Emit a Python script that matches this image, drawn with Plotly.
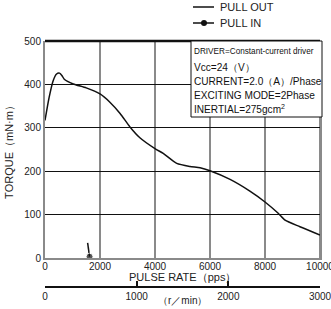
import plotly.graph_objects as go

# Pull-out torque curve (pps, mN·m)
pullout_pps = [0, 150, 300, 420, 530, 620, 700, 1030, 1500, 2000, 2360, 2730, 3090, 3450,
               4000, 4300, 4790, 5270, 5640, 6000, 6730, 7450, 8000, 8480, 8730, 9270, 10000]
pullout_torque = [317, 370, 409, 424, 426, 420, 412, 401, 392, 378, 359, 333, 302, 277,
                  252, 241, 218, 211, 208, 201, 181, 154, 129, 103, 87, 72, 53]

# Pull-in torque (short segment)
pullin_pps = [1550, 1620]
pullin_torque = [35, 3]

x_ticks = [0, 2000, 4000, 6000, 8000, 10000]
y_ticks = [0, 100, 200, 300, 400, 500]
rpm_range = [0, 3000]
rpm_ticks = [0, 1000, 2000, 3000]

legend_names = ["PULL OUT", "PULL IN"]
info_lines = ["DRIVER=Constant-current driver", "Vcc=24（V）", "CURRENT=2.0（A）/Phase",
              "EXCITING MODE=2Phase", "INERTIAL=275gcm<sup>2</sup>"]

FONT = "Arial, Liberation Sans, sans-serif"
L, R, T, B = 45, 11, 41, 22
W, H = 331, 309
PW, PH = W - L - R, H - T - B


def px(xp):
    return (xp - L) / PW


def py(yp):
    return (H - B - yp) / PH


fig = go.Figure()
fig.add_trace(go.Scatter(x=pullout_pps, y=pullout_torque, mode="lines", name=legend_names[0],
                         line=dict(color="#111", width=1.5, shape="spline", smoothing=0.6)))
fig.add_trace(go.Scatter(x=pullin_pps, y=pullin_torque, mode="lines+markers", name=legend_names[1],
                         line=dict(color="#111", width=1.5),
                         marker=dict(size=[0, 7], color="#111")))
# carrier for the secondary (r/min) axis
fig.add_trace(go.Scatter(x=rpm_range, y=[None, None], xaxis="x2", mode="lines",
                         showlegend=False, hoverinfo="skip"))

fig.update_layout(
    width=W, height=H,
    margin=dict(l=L, r=R, t=T, b=B),
    paper_bgcolor="white", plot_bgcolor="white",
    font=dict(family=FONT, size=10, color="#222"),
    showlegend=False,
    xaxis=dict(range=[0, 10000], tickvals=x_ticks, ticktext=[str(v) for v in x_ticks],
               showgrid=True, gridcolor="#8a8a8a", gridwidth=2,
               showline=True, linecolor="#8a8a8a", linewidth=2, mirror=False,
               zeroline=False, ticks="", anchor="y", automargin=False,
               ticklabeloverflow="allow", ticklabelstandoff=-2,
               tickfont=dict(size=10, color="#222")),
    yaxis=dict(range=[0, 500], tickvals=y_ticks, domain=[(H - B - 258) / PH, 1],
               showgrid=True, gridcolor="#111", gridwidth=1,
               showline=True, linecolor="#8a8a8a", linewidth=2, mirror=True,
               zeroline=False, ticks="", automargin=False,
               title=dict(text="TORQUE（mN·m）", standoff=8, font=dict(size=11, color="#222")),
               tickfont=dict(size=10, color="#222")),
    xaxis2=dict(range=rpm_range, overlaying="x", anchor="free", position=0, side="bottom",
                showline=True, linecolor="#111", linewidth=1.5, showgrid=False, zeroline=False,
                ticks="inside", ticklen=5, tickwidth=1.5, tickcolor="#111", automargin=False,
                ticklabeloverflow="allow", ticklabelstandoff=0,
                tickvals=rpm_ticks, tickfont=dict(size=10, color="#222")),
)

# frame: top line at 500 (black) and right edge (grey)
fig.add_shape(type="line", xref="x domain", yref="y domain", x0=0, x1=1, y0=1, y1=1,
              line=dict(color="#111", width=2.5))
fig.add_shape(type="line", xref="x domain", yref="y domain", x0=1, x1=1, y0=0, y1=1,
              line=dict(color="#8a8a8a", width=2), layer="below")

# legend keys
fig.add_shape(type="line", xref="paper", yref="paper", x0=px(193), x1=px(214), y0=py(7), y1=py(7),
              line=dict(color="#111", width=1.5))
fig.add_shape(type="line", xref="paper", yref="paper", x0=px(193), x1=px(214), y0=py(23), y1=py(23),
              line=dict(color="#111", width=1.5))
fig.add_shape(type="circle", xref="paper", yref="paper", x0=px(201), x1=px(207),
              y0=py(26), y1=py(20), fillcolor="#111", line=dict(color="#111", width=0))
for name, yy in zip(legend_names, [7, 23]):
    fig.add_annotation(xref="paper", yref="paper", x=px(218), y=py(yy), xanchor="left",
                       yanchor="middle", text=name, showarrow=False,
                       font=dict(size=11, color="#222"))

# info box
fig.add_shape(type="rect", xref="paper", yref="paper", x0=px(191), x1=px(322),
              y0=py(117), y1=py(41), fillcolor="white", line=dict(color="#111", width=1))
for line_text, yy, fs in zip(info_lines, [51, 67, 81, 95, 109], [8.2, 10.1, 10.1, 10.1, 10.1]):
    fig.add_annotation(xref="paper", yref="paper", x=px(192), y=py(yy), xanchor="left",
                       yanchor="middle", text=line_text, showarrow=False,
                       font=dict(size=fs, color="#111", family=FONT))

fig.add_annotation(xref="paper", yref="paper", x=px(182), y=py(277), text="PULSE RATE（pps）",
                   showarrow=False, font=dict(size=11, color="#222"), yanchor="middle")
fig.add_annotation(xref="paper", yref="paper", x=px(182), y=py(300), text="（r／min）",
                   showarrow=False, font=dict(size=10, color="#222"), yanchor="middle")

fig.write_html("out.html", config={"displayModeBar": False},
               post_script="document.body.style.margin='0';")
